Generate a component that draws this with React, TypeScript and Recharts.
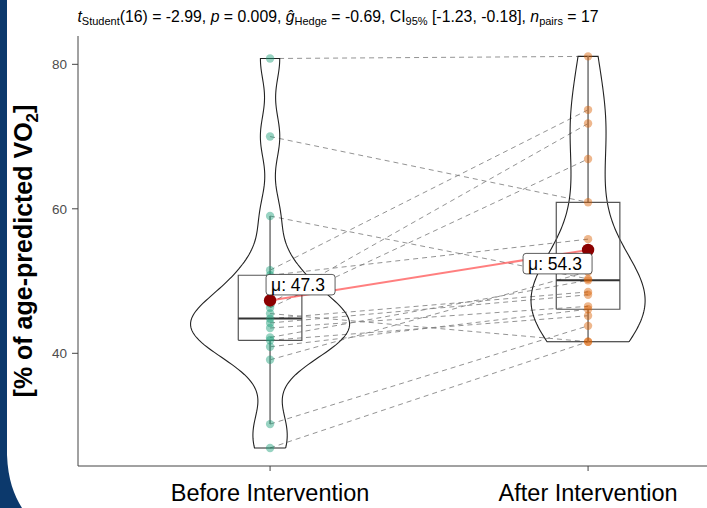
import React from "react";
import { ComposedChart, XAxis, YAxis, Scatter } from "recharts";

// paired measurements (same subject order in both arrays)
const groups = ["Before Intervention", "After Intervention"];
const before = [80.8, 70.0, 59.0, 51.5, 50.8, 46.9, 46.3, 45.5, 44.8, 44.2, 43.5, 42.2, 41.8, 40.9, 39.1, 30.2, 26.9];
const after = [81.1, 60.9, 50.3, 73.7, 55.8, 71.8, 66.9, 41.6, 48.5, 48.1, 46.5, 50.1, 45.2, 46.1, 51.3, 43.8, 41.6];
const yTicks = [40, 60, 80];
const yDomain = [24.4, 83.92];
const xDomain = [0.396, 2.374];

const FONT = "'Liberation Sans', Arial, Helvetica, sans-serif";
const colors = ["#1b9e77", "#d95f02"];

// --- small stats helpers (what ggplot does for box/violin) ---
const mean = (v: number[]) => v.reduce((a, b) => a + b, 0) / v.length;
const quantile = (v: number[], p: number) => {
  const s = [...v].sort((a, b) => a - b);
  const h = (s.length - 1) * p;
  const lo = Math.floor(h);
  const hi = Math.min(lo + 1, s.length - 1);
  return s[lo] + (h - lo) * (s[hi] - s[lo]);
};
const sd = (v: number[]) => {
  const m = mean(v);
  return Math.sqrt(v.reduce((a, b) => a + (b - m) ** 2, 0) / (v.length - 1));
};
const bwNrd0 = (v: number[]) => {
  const iqr = quantile(v, 0.75) - quantile(v, 0.25);
  return 0.9 * Math.min(sd(v), iqr / 1.34) * Math.pow(v.length, -0.2);
};
const density = (v: number[], bw: number, y: number) =>
  v.reduce((s, xi) => s + Math.exp(-0.5 * ((y - xi) / bw) ** 2), 0) /
  (v.length * bw * Math.sqrt(2 * Math.PI));

const series = [before, after];

const violinGrids = series.map((v) => {
  const bw = bwNrd0(v);
  const lo = Math.min(...v);
  const hi = Math.max(...v);
  const n = 160;
  return Array.from({ length: n }, (_, i) => {
    const y = lo + ((hi - lo) * i) / (n - 1);
    return { y, d: density(v, bw, y) };
  });
});
const maxDens = Math.max(...violinGrids.flat().map((p) => p.d));

const violins = violinGrids.map((grid, g) => {
  const c = g + 1;
  const right = grid.map((p) => ({ x: c + (0.25 * p.d) / maxDens, y: p.y }));
  const left = [...grid].reverse().map((p) => ({ x: c - (0.25 * p.d) / maxDens, y: p.y }));
  return [...right, ...left, right[0]];
});

const boxes = series.map((v, g) => {
  const c = g + 1;
  const q1 = quantile(v, 0.25);
  const med = quantile(v, 0.5);
  const q3 = quantile(v, 0.75);
  const iqr = q3 - q1;
  const wHi = Math.max(...v.filter((y) => y <= q3 + 1.5 * iqr));
  const wLo = Math.min(...v.filter((y) => y >= q1 - 1.5 * iqr));
  return {
    rect: [
      { x: c - 0.1, y: q1 },
      { x: c + 0.1, y: q1 },
      { x: c + 0.1, y: q3 },
      { x: c - 0.1, y: q3 },
      { x: c - 0.1, y: q1 },
    ],
    median: [
      { x: c - 0.1, y: med },
      { x: c + 0.1, y: med },
    ],
    upper: [
      { x: c, y: q3 },
      { x: c, y: wHi },
    ],
    lower: [
      { x: c, y: q1 },
      { x: c, y: wLo },
    ],
  };
});

const pairs = before.map((b, i) => [
  { x: 1, y: b },
  { x: 2, y: after[i] },
]);

const means = series.map((v, g) => ({ x: g + 1, y: mean(v), label: `μ: ${mean(v).toFixed(1)}` }));

const labelOffsets = [
  [-4, -26],
  [-65, 3.5],
];

const NoDot = () => <g />;

const dotShape = (color: string) => (props: any) => (
  <circle cx={props.cx} cy={props.cy} r={4.2} fill={color} fillOpacity={0.45} />
);

const MeanDot = (props: any) => <circle cx={props.cx} cy={props.cy} r={6.2} fill="#8b0000" />;

const MeanLabel = (props: any) => {
  const { cx, cy, payload, index } = props;
  const [ox, oy] = labelOffsets[index] ?? [0, 0];
  return (
    <g>
      <rect x={cx + ox} y={cy + oy} width={69} height={20.5} rx={3} fill="#fff" stroke="#333" strokeWidth={0.8} />
      <text x={cx + ox + 5} y={cy + oy + 16.5} fontFamily={FONT} fontSize={17.5} fill="#000">
        {payload.label}
      </text>
    </g>
  );
};

const YLabel = (props: any) => {
  const vb = props.viewBox || { x: 0, y: 36, width: 78, height: 430 };
  const cx = 32;
  const cy = vb.y + vb.height / 2;
  return (
    <text
      x={cx}
      y={cy}
      transform={`rotate(-90 ${cx} ${cy})`}
      textAnchor="middle"
      fontFamily={FONT}
      fontWeight="bold"
      fontSize={25}
      fill="#000"
    >
      [% of age-predicted VO
      <tspan fontSize={17} dy={6}>
        2
      </tspan>
      <tspan dy={-6}>]</tspan>
    </text>
  );
};

export default function App() {
  const dash = { stroke: "#808080", strokeWidth: 1, strokeDasharray: "5 4", strokeOpacity: 0.85 };
  return (
    <div style={{ position: "absolute", left: 0, top: 0, width: 707, height: 508, background: "#fff" }}>
      <ComposedChart width={707} height={508} margin={{ top: 36, right: 0, bottom: 0, left: 0 }}>
        <XAxis
          type="number"
          dataKey="x"
          domain={xDomain}
          ticks={[1, 2]}
          interval={0}
          allowDataOverflow
          height={42}
          tickSize={5}
          tickMargin={13}
          stroke="#444"
          tickFormatter={(v) => groups[Number(v) - 1] ?? ""}
          tick={{ fill: "#000", fontSize: 23.5, fontFamily: FONT }}
        />
        <YAxis
          type="number"
          dataKey="y"
          domain={yDomain}
          ticks={yTicks}
          interval={0}
          allowDataOverflow
          width={78}
          tickSize={6}
          tickMargin={5}
          stroke="#444"
          tick={{ fill: "#4d4d4d", fontSize: 13.5, fontFamily: FONT }}
          label={<YLabel />}
        />
        {pairs.map((p, i) => (
          <Scatter key={`p${i}`} data={p} line={dash} shape={NoDot} isAnimationActive={false} />
        ))}
        {violins.map((v, i) => (
          <Scatter
            key={`v${i}`}
            data={v}
            line={{ stroke: "#222", strokeWidth: 1.1 }}
            shape={NoDot}
            isAnimationActive={false}
          />
        ))}
        {boxes.map((b, i) => (
          <React.Fragment key={`b${i}`}>
            <Scatter data={b.upper} line={{ stroke: "#8a8a8a", strokeWidth: 1.8 }} shape={NoDot} isAnimationActive={false} />
            <Scatter data={b.lower} line={{ stroke: "#8a8a8a", strokeWidth: 1.8 }} shape={NoDot} isAnimationActive={false} />
            <Scatter data={b.rect} line={{ stroke: "#555", strokeWidth: 1.2 }} shape={NoDot} isAnimationActive={false} />
            <Scatter data={b.median} line={{ stroke: "#333", strokeWidth: 2 }} shape={NoDot} isAnimationActive={false} />
          </React.Fragment>
        ))}
        <Scatter data={before.map((y) => ({ x: 1, y }))} shape={dotShape(colors[0])} isAnimationActive={false} />
        <Scatter data={after.map((y) => ({ x: 2, y }))} shape={dotShape(colors[1])} isAnimationActive={false} />
        <Scatter
          data={means}
          line={{ stroke: "red", strokeOpacity: 0.5, strokeWidth: 2 }}
          shape={MeanDot}
          isAnimationActive={false}
        />
        <Scatter data={means} shape={MeanLabel} isAnimationActive={false} />
      </ComposedChart>
      <svg
        width={707}
        height={508}
        style={{ position: "absolute", left: 0, top: 0, pointerEvents: "none" }}
      >
        <path d="M0 0 H7 V455 C8 480 14 495 22 508 H0 Z" fill="#0c396c" />
        <text x={338} y={22} textAnchor="middle" fontFamily={FONT} fontSize={15.8} fill="#000">
          <tspan fontStyle="italic">t</tspan>
          <tspan fontSize={11} dy={3}>Student</tspan>
          <tspan dy={-3}>(16) = -2.99, </tspan>
          <tspan fontStyle="italic">p</tspan>
          <tspan> = 0.009, </tspan>
          <tspan fontStyle="italic">ĝ</tspan>
          <tspan fontSize={11} dy={3}>Hedge</tspan>
          <tspan dy={-3}> = -0.69, CI</tspan>
          <tspan fontSize={11} dy={3}>95%</tspan>
          <tspan dy={-3}> [-1.23, -0.18], </tspan>
          <tspan fontStyle="italic">n</tspan>
          <tspan fontSize={11} dy={3}>pairs</tspan>
          <tspan dy={-3}> = 17</tspan>
        </text>
      </svg>
    </div>
  );
}
